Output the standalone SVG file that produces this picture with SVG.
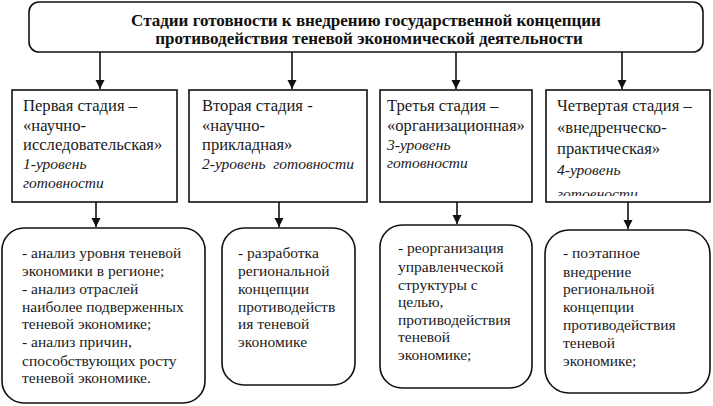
<svg xmlns="http://www.w3.org/2000/svg" width="713" height="406" viewBox="0 0 713 406">
<style>
.box{fill:#fff;stroke:#111;stroke-width:1.6}
.t{font-family:'Liberation Serif','Times New Roman',serif;font-size:15.5px;fill:#1a1a1a}
.s{font-size:16.6px}
.i{font-style:italic;font-size:15.5px}
.b{font-family:'Liberation Serif','Times New Roman',serif;font-size:17px;font-weight:bold;fill:#111;text-anchor:middle}
.c{stroke:#111;stroke-width:1.6;fill:none}
</style>
<defs>
<marker id="ah" markerWidth="10" markerHeight="10" refX="9" refY="5" orient="auto" markerUnits="userSpaceOnUse">
<path d="M0,0.5 L9,5 L0,9.5 Z" fill="#111"/>
</marker>
<clipPath id="clip4"><rect x="546" y="90" width="164" height="106"/></clipPath>
</defs>
<rect width="713" height="406" fill="#fff"/>
<g id="connectors">
<line class="c" x1="100" y1="52" x2="100" y2="89" marker-end="url(#ah)"/>
<line class="c" x1="292" y1="52" x2="292" y2="89" marker-end="url(#ah)"/>
<line class="c" x1="456" y1="52" x2="456" y2="89" marker-end="url(#ah)"/>
<line class="c" x1="622" y1="52" x2="622" y2="89" marker-end="url(#ah)"/>
<line class="c" x1="96" y1="202" x2="96" y2="227" marker-end="url(#ah)"/>
<line class="c" x1="279" y1="202" x2="279" y2="227" marker-end="url(#ah)"/>
<line class="c" x1="457" y1="202" x2="457" y2="224" marker-end="url(#ah)"/>
<line class="c" x1="628" y1="202" x2="628" y2="229" marker-end="url(#ah)"/>
</g>
<g id="title">
<rect class="box" x="29" y="2" width="674" height="50" rx="10"/>
<text class="b" x="366" y="26">Стадии готовности к внедрению государственной концепции</text>
<text class="b" x="369" y="44">противодействия теневой экономической деятельности</text>
</g>
<g id="stage1">
<rect class="box" x="12" y="90" width="165" height="112"/>
<text class="t s" x="23" y="111">Первая стадия –</text>
<text class="t s" x="23" y="131">«научно-</text>
<text class="t s" x="23" y="150">исследовательская»</text>
<text class="t i" x="23" y="169">1-уровень</text>
<text class="t i" x="23" y="188">готовности</text>
</g>
<g id="stage2">
<rect class="box" x="189" y="90" width="178" height="112"/>
<text class="t s" x="202" y="111">Вторая стадия -</text>
<text class="t s" x="202" y="131">«научно-</text>
<text class="t s" x="202" y="150">прикладная»</text>
<text class="t i" x="202" y="169" xml:space="preserve">2-уровень  готовности</text>
</g>
<g id="stage3">
<rect class="box" x="380" y="90" width="152" height="112"/>
<text class="t s" x="387" y="111">Третья стадия –</text>
<text class="t s" x="387" y="131">«организационная»</text>
<text class="t i" x="387" y="150">3-уровень</text>
<text class="t i" x="387" y="168">готовности</text>
</g>
<g id="stage4">
<rect class="box" x="546" y="90" width="164" height="112"/>
<text class="t s" x="557" y="111">Четвертая стадия –</text>
<text class="t s" x="557" y="133">«внедренческо-</text>
<text class="t s" x="557" y="154">практическая»</text>
<text class="t i" x="557" y="175">4-уровень</text>
<text class="t i" x="557" y="199" clip-path="url(#clip4)">готовности</text>
</g>
<g id="tasks1">
<rect class="box" x="2" y="228" width="203" height="175" rx="22"/>
<text class="t" x="22" y="258">- анализ уровня теневой</text>
<text class="t" x="22" y="276">экономики в регионе;</text>
<text class="t" x="22" y="294">- анализ отраслей</text>
<text class="t" x="22" y="312">наиболее подверженных</text>
<text class="t" x="22" y="329">теневой экономике;</text>
<text class="t" x="22" y="347">- анализ причин,</text>
<text class="t" x="22" y="366">способствующих росту</text>
<text class="t" x="22" y="383">теневой экономике.</text>
</g>
<g id="tasks2">
<rect class="box" x="222" y="228" width="133" height="157" rx="22"/>
<text class="t" x="238" y="258">- разработка</text>
<text class="t" x="238" y="276">региональной</text>
<text class="t" x="238" y="294">концепции</text>
<text class="t" x="238" y="312">противодейств</text>
<text class="t" x="238" y="329">ия теневой</text>
<text class="t" x="238" y="347">экономике</text>
</g>
<g id="tasks3">
<rect class="box" x="380" y="225" width="152" height="163" rx="22"/>
<text class="t" x="398" y="253">- реорганизация</text>
<text class="t" x="398" y="272">управленческой</text>
<text class="t" x="398" y="290">структуры с</text>
<text class="t" x="398" y="307">целью,</text>
<text class="t" x="398" y="325">противодействия</text>
<text class="t" x="398" y="342">теневой</text>
<text class="t" x="398" y="360">экономике;</text>
</g>
<g id="tasks4">
<rect class="box" x="545" y="230" width="165" height="163" rx="24"/>
<text class="t" x="563" y="258">- поэтапное</text>
<text class="t" x="563" y="277">внедрение</text>
<text class="t" x="563" y="294">региональной</text>
<text class="t" x="563" y="312">концепции</text>
<text class="t" x="563" y="330">противодействия</text>
<text class="t" x="563" y="348">теневой</text>
<text class="t" x="563" y="366">экономике;</text>
</g>
</svg>
